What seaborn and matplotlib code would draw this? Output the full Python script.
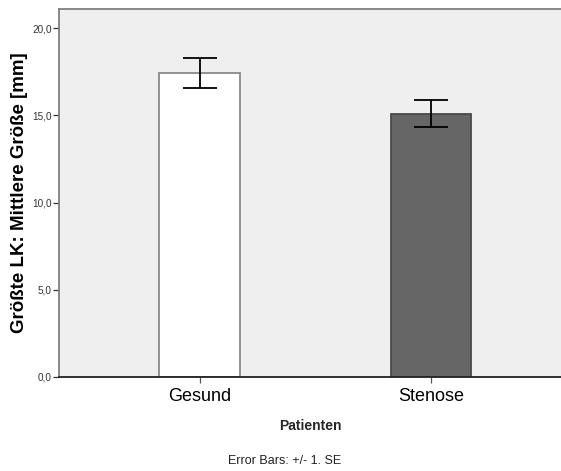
import matplotlib
matplotlib.use("Agg")
import matplotlib.pyplot as plt
import seaborn as sns
import pandas as pd

# Group means and standard errors of the largest lymph node size
groups = ["Gesund", "Stenose"]
means = [17.42, 15.10]
se = [0.87, 0.77]
bar_colors = ["#ffffff", "#666666"]
edge_colors = ["#8a8a8a", "#4a4a4a"]
y_ticks = [0, 5, 10, 15, 20]

sns.set_style("white")
plt.rcParams["font.family"] = ["Liberation Sans", "DejaVu Sans"]

df = pd.DataFrame({"Patienten": groups, "Groesse": means})

fig = plt.figure(figsize=(5.61, 4.71), dpi=100)
ax = fig.add_axes([59 / 561, 94 / 471, 502 / 561, 368 / 471])
ax.set_facecolor("#efefef")

sns.barplot(data=df, x="Patienten", y="Groesse", hue="Patienten",
            palette=bar_colors, width=0.35, linewidth=1.3,
            errorbar=None, legend=False, ax=ax)
for patch, ec in zip(ax.patches, edge_colors):
    patch.set_edgecolor(ec)
ax.errorbar(range(len(groups)), means, yerr=se, fmt="none",
            ecolor="black", elinewidth=1.3, capsize=12.5, capthick=1.3)

ax.set_xlim(-0.61, 1.563)
ax.set_ylim(0, 21.09)
ax.set_yticks(y_ticks)
ax.set_yticklabels([f"{v:.1f}".replace(".", ",") for v in y_ticks],
                   fontsize=7.2, color="#333333")
ax.set_xticks(range(len(groups)))
ax.set_xticklabels(groups, fontsize=13, color="black")
ax.tick_params(axis="y", length=4.3, width=0.9, pad=1, color="#333333",
               left=True)
ax.tick_params(axis="x", length=4, width=0.9, pad=4, color="#555555",
               bottom=True)

ax.set_xlabel("Patienten", fontsize=10, fontweight="bold", labelpad=10)
ax.set_ylabel("Größte LK: Mittlere Größe [mm]", fontsize=13.5,
              fontweight="bold", labelpad=3, color="black",
              family="Liberation Sans")

for side in ["top", "left"]:
    ax.spines[side].set_color("#808080")
    ax.spines[side].set_linewidth(1.3)
ax.spines["bottom"].set_color("#222222")
ax.spines["bottom"].set_linewidth(1.3)
ax.spines["right"].set_visible(False)

fig.text(285 / 561, 1 - 461 / 471, "Error Bars: +/- 1. SE", fontsize=9,
         ha="center", va="center", color="#222222")

fig.savefig("out.png", dpi=100, facecolor="white")
